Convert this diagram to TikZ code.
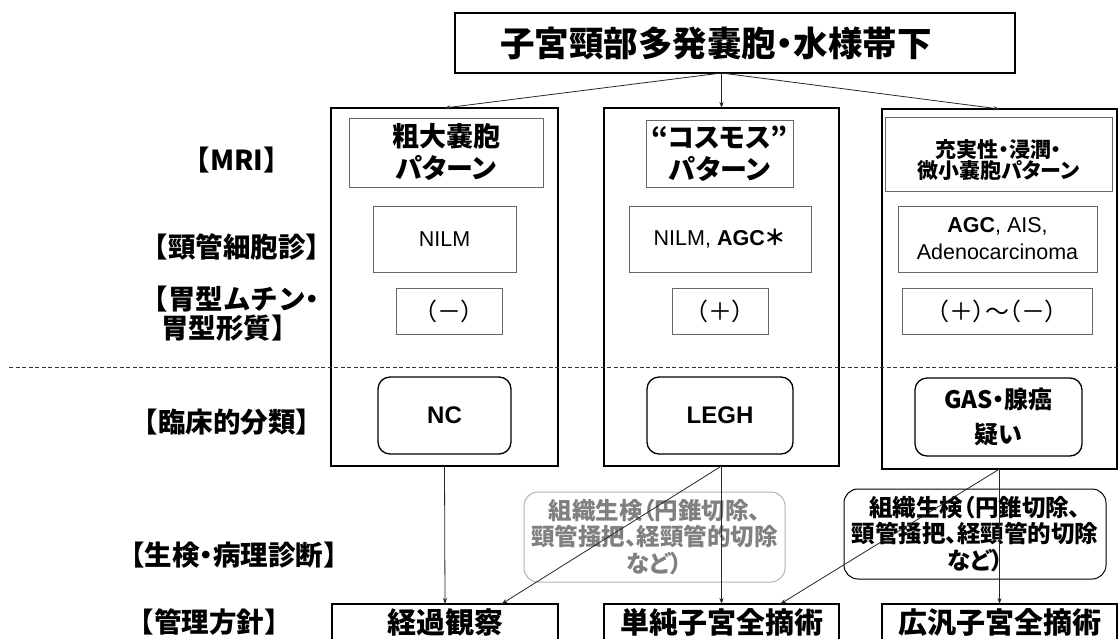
\documentclass[tikz,border=0pt]{standalone}
\usepackage{fontspec}
\setmainfont{Noto Sans CJK JP}[RawFeature=+palt]
\newfontfamily\jpfull{Noto Sans CJK JP}
\newfontfamily\lib{Liberation Sans}
\newcommand{\ndot}{{\rmfamily\bfseries ・}}
\usetikzlibrary{arrows.meta,calc}
\begin{document}
\begin{tikzpicture}[x=1pt,y=-1pt,
  every node/.style={inner sep=0pt,outer sep=0pt,align=center},
  colbox/.style={draw=black,line width=1.3pt},
  inbox/.style={draw=black!60,line width=0.9pt},
  rbox/.style={draw=black,line width=1.3pt,rounded corners=12pt},
  graybox/.style={draw=black!30,line width=1pt,rounded corners=14pt,text=black!50},
  bbox/.style={draw=black,line width=1pt,rounded corners=14pt},
  endbox/.style={draw=black,line width=1.3pt,minimum height=37pt,font=\fontsize{29}{30}\selectfont\bfseries},
  lab/.style={font=\jpfull\fontsize{27.5}{29}\selectfont\bfseries},
  mri/.style={inbox,font=\fontsize{27}{32}\selectfont\bfseries},
  cyto/.style={inbox,minimum height=66pt,font=\fontsize{21.5}{27}\lib},
  par/.style={inbox,minimum height=46pt,font=\fontsize{24}{24}\selectfont},
  cls/.style={rbox,font=\fontsize{24}{35}\selectfont\bfseries},
  bio/.style={font=\fontsize{23.5}{26.5}\selectfont\bfseries},
  arr/.style={draw=black!85,line width=0.8pt,-{Stealth[length=6pt,width=4pt]}},
  dline/.style={draw=black!80,line width=0.8pt,dash pattern=on 4pt off 2.5pt}
]
\useasboundingbox (0,0) rectangle (1118,639);
\clip (0,0) rectangle (1118,639);

% title
\node[draw=black,line width=1.2pt,minimum width=560pt,minimum height=60pt,
  font=\fontsize{34.5}{36}\selectfont\bfseries] (title) at (735,43)
  {子宮頸部多発嚢胞・水様帯下\hspace*{38pt}};

% row labels
\node[lab] (lMRI) at (237,160) {【MRI】};
\node[lab] (lCyto) at (237,247) {【頸管細胞診】};
\node[lab] (lMuc) at (230,314) {【胃型ムチン\ndot\\胃型形質】};
\node[lab] (lClin) at (227,422) {【臨床的分類】};
\node[lab] (lBio) at (234,555) {【生検\ndot 病理診断】};
\node[lab] (lMgmt) at (209,622) {【管理方針】};

% dashed separator
\coordinate (dl) at (9,367);
\coordinate (dr) at (1118,367);

% columns
\node[colbox,minimum width=227pt,minimum height=358pt] (colL) at (444.5,287) {};
\node[colbox,minimum width=235pt,minimum height=358pt] (colC) at (721.5,287) {};
\node[colbox,minimum width=235pt,minimum height=360pt] (colR) at (999.5,289) {};

\draw[dline] (dl) -- (dr);

% MRI boxes
\node[mri,minimum width=194pt,minimum height=69pt] (mriL) at (446,152.5) {粗大嚢胞\\パターン};
\node[mri,minimum width=147pt,minimum height=67pt] (mriC) at (719.5,153.5) {“コスモス”\\パターン};
\node[inbox,minimum width=227pt,minimum height=74pt] (mriR) at (998.5,154) {};
\node[font=\fontsize{21}{20}\selectfont\bfseries] (mriRt) at (998.5,160) {充実性・浸潤・\\微小嚢胞パターン};

% cytology boxes
\node[cyto,minimum width=143pt] (cyL) at (444.5,239) {NILM};
\node[cyto,minimum width=182pt] (cyC) at (720,239) {NILM, \textbf{AGC}{\jpfull\bfseries ＊}};
\node[cyto,minimum width=199pt] (cyR) at (997.5,239) {\textbf{AGC}, AIS,\\Adenocarcinoma};

% gastric mucin boxes
\node[par,minimum width=106pt] (pL) at (449,311) {（－）};
\node[par,minimum width=96pt] (pC) at (720,311) {（＋）};
\node[par,minimum width=190pt] (pR) at (997,311) {（＋）～（－）};

% clinical classification
\node[cls,minimum width=133pt,minimum height=77pt] (cNC) at (444.5,415.5) {\lib\bfseries NC};
\node[cls,minimum width=146pt,minimum height=77pt] (cLEGH) at (720,415.5) {\lib\bfseries LEGH};
\node[cls,minimum width=167pt,minimum height=78pt] (cGAS) at (998.5,417) {GAS・腺癌\\疑い};

% biopsy boxes
\node[graybox,bio,minimum width=261pt,minimum height=90pt] (bioG) at (654.5,537) {組織生検（円錐切除、\\頸管掻把、経頸管的切除\\など）};
\node[bbox,bio,minimum width=262pt,minimum height=90pt] (bioB) at (975,534) {組織生検（円錐切除、\\頸管掻把、経頸管的切除\\など）};

% management
\node[endbox,minimum width=226pt] (bL) at (445,622.5) {経過観察};
\node[endbox,minimum width=235pt] (bC) at (721.5,622.5) {単純子宮全摘術};
\node[endbox,minimum width=235pt] (bR) at (999.5,622.5) {広汎子宮全摘術};

% connectors
\draw[arr] (colC.north |- title.south) -- (colL.north);
\draw[arr] (colC.north |- title.south) -- (colC.north);
\draw[arr] (colC.north |- title.south) -- (colR.north);
\draw[arr] (colL.south) -- (bL.north);
\draw[arr] (colC.south) -- (bC.north);
\draw[arr] (colC.south) -- ($(bL.north)!0.5!(bL.north east)$);
\draw[arr] (colR.south) -- (bR.north);
\draw[arr] (colR.south) -- ($(bC.north)!0.5!(bC.north east)$);
\end{tikzpicture}
\end{document}
